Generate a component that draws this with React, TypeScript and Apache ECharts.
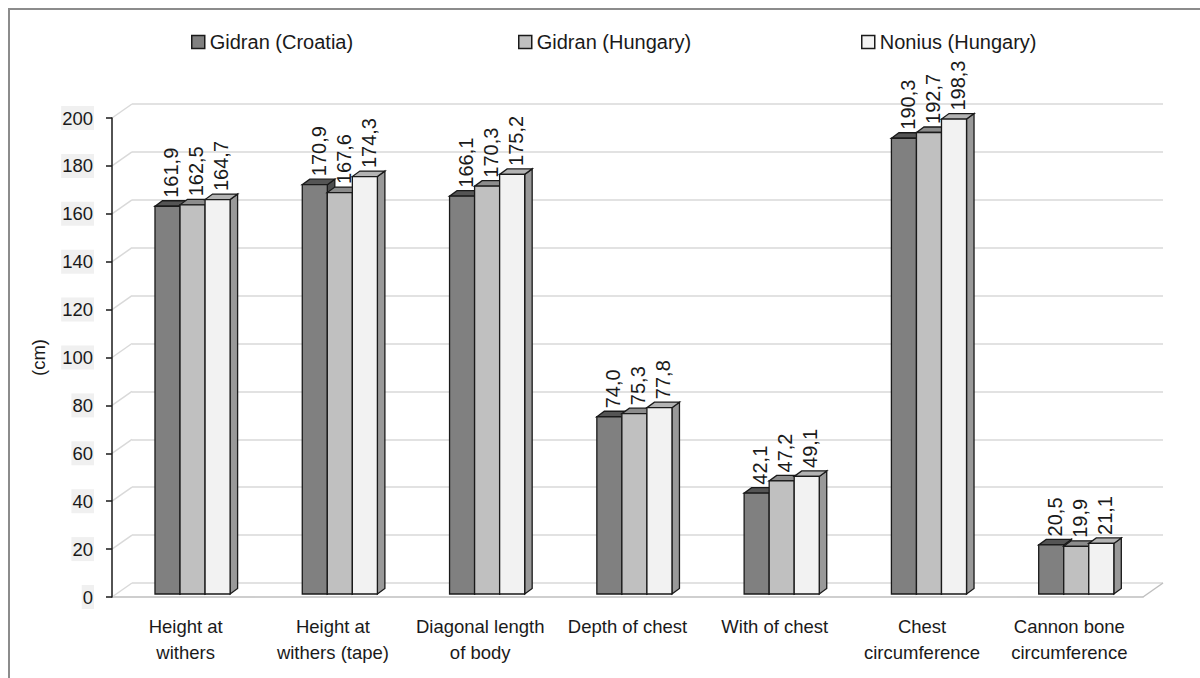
import React, { useEffect, useRef } from 'react';
import * as echarts from 'echarts';

const categories = [
  'Height at\nwithers',
  'Height at\nwithers (tape)',
  'Diagonal length\nof body',
  'Depth of chest',
  'With of chest',
  'Chest\ncircumference',
  'Cannon bone\ncircumference',
];
const seriesNames = ['Gidran (Croatia)', 'Gidran (Hungary)', 'Nonius (Hungary)'];
const gidranCroatia = [161.9, 170.9, 166.1, 74.0, 42.1, 190.3, 20.5];
const gidranHungary = [162.5, 167.6, 170.3, 75.3, 47.2, 192.7, 19.9];
const noniusHungary = [164.7, 174.3, 175.2, 77.8, 49.1, 198.3, 21.1];
const yTicks = [0, 20, 40, 60, 80, 100, 120, 140, 160, 180, 200];

const seriesValues = [gidranCroatia, gidranHungary, noniusHungary];
const frontColors = ['#808080', '#c0c0c0', '#f2f2f2'];
const topColors = ['#555555', '#8c8c8c', '#b3b3b3'];
const sideColors = ['#4d4d4d', '#7f7f7f', '#999999'];
const legendLefts = [191, 518, 861];

const FONT = '"Liberation Sans", Arial, sans-serif';
const DX = 7.5;
const DY = -5.5;
const WALL_DX = 20;
const WALL_DY = -14;

function fmt(v: number) {
  return v.toFixed(1).replace('.', ',');
}

export default function App() {
  const ref = useRef<HTMLDivElement>(null);

  useEffect(() => {
    if (!ref.current) return;
    const chart = echarts.init(ref.current, undefined, { renderer: 'svg' });

    const barSeries = seriesValues.map((vals, s) => ({
      type: 'custom',
      name: seriesNames[s],
      xAxisIndex: 0,
      yAxisIndex: 0,
      z: 3,
      itemStyle: { color: frontColors[s] },
      data: vals.map((v, i) => [i, v]),
      renderItem: (params: any, api: any) => {
        const i = api.value(0);
        const v = api.value(1);
        const top = api.coord([i, v]);
        const base = api.coord([i, 0]);
        const w = api.size([1, 0])[0];
        const bw = w * 0.17;
        const L = top[0] - 1.5 * bw + 6.9 + s * bw;
        const R = L + bw;
        const T = top[1] - 3;
        const B = base[1] - 3;
        const stroke = { stroke: '#1a1a1a', lineWidth: 1.3 };
        return {
          type: 'group',
          children: [
            {
              type: 'polygon',
              shape: { points: [[R, T], [R + DX, T + DY], [R + DX, B + DY], [R, B]] },
              style: { fill: sideColors[s], ...stroke },
            },
            {
              type: 'polygon',
              shape: { points: [[L, T], [R, T], [R + DX, T + DY], [L + DX, T + DY]] },
              style: { fill: topColors[s], ...stroke },
            },
            {
              type: 'rect',
              shape: { x: L, y: T, width: bw, height: B - T },
              style: { fill: frontColors[s], ...stroke },
            },
            {
              type: 'text',
              x: L + bw / 2 + DX / 2,
              y: T + DY - 3,
              rotation: Math.PI / 2,
              style: {
                text: fmt(v),
                x: 0,
                y: 0,
                align: 'left',
                verticalAlign: 'middle',
                fontSize: 20,
                fontFamily: FONT,
                fill: '#1a1a1a',
              },
            },
          ],
        };
      },
    }));

    const wallSeries = {
      type: 'custom',
      name: 'wall',
      xAxisIndex: 0,
      yAxisIndex: 0,
      z: 1,
      silent: true,
      data: yTicks.map((v) => [0, v]),
      renderItem: (params: any, api: any) => {
        const v = api.value(1);
        const p = api.coord([0, v]);
        const w = api.size([1, 0])[0];
        const left = p[0] - w / 2;
        const children: any[] = [
          {
            type: 'line',
            shape: { x1: left, y1: p[1], x2: left + WALL_DX, y2: p[1] + WALL_DY },
            style: { stroke: '#d9d9d9', lineWidth: 1.5 },
          },
        ];
        if (v === 0) {
          const right = left + w * categories.length;
          children.push({
            type: 'line',
            shape: { x1: right, y1: p[1], x2: right + WALL_DX, y2: p[1] + WALL_DY },
            style: { stroke: '#bfbfbf', lineWidth: 1.5 },
          });
        }
        return { type: 'group', children };
      },
    };

    const option: any = {
      animation: false,
      backgroundColor: '#ffffff',
      textStyle: { fontFamily: FONT },
      graphic: [
        {
          type: 'polyline',
          shape: { points: [[9, 678], [9, 9], [1200, 9]] },
          style: { stroke: '#8c8c8c', lineWidth: 2, fill: 'none' },
          z: 10,
        },
      ],
      legend: seriesNames.map((n, k) => ({
        data: [n],
        left: legendLefts[k],
        top: 32,
        padding: 0,
        icon: 'rect',
        itemWidth: 13,
        itemHeight: 13,
        itemGap: 0,
        selectedMode: false,
        itemStyle: { borderColor: '#1a1a1a', borderWidth: 1.5 },
        textStyle: { fontSize: 20, color: '#1a1a1a', fontFamily: FONT },
      })),
      grid: [
        { left: 112, right: 57, top: 118, bottom: 81 },
        { left: 132, right: 37, top: 104, bottom: 95 },
      ],
      xAxis: [
        {
          type: 'category',
          gridIndex: 0,
          data: categories,
          axisLine: { show: true, lineStyle: { color: '#bfbfbf', width: 1.5 } },
          axisTick: { show: false },
          axisLabel: {
            interval: 0,
            margin: 16,
            fontSize: 18.5,
            lineHeight: 26,
            color: '#1a1a1a',
            fontFamily: FONT,
          },
          splitLine: { show: false },
        },
        {
          type: 'category',
          gridIndex: 1,
          data: categories,
          show: false,
        },
      ],
      yAxis: [
        {
          type: 'value',
          gridIndex: 0,
          min: 0,
          max: 200,
          interval: 20,
          name: '(cm)',
          nameLocation: 'middle',
          nameGap: 64,
          nameRotate: 90,
          nameTextStyle: { fontSize: 18.5, color: '#1a1a1a', fontFamily: FONT },
          axisLine: { show: true, lineStyle: { color: '#1a1a1a', width: 1.5 } },
          axisTick: { show: true, length: 6, lineStyle: { color: '#1a1a1a', width: 1.5 } },
          axisLabel: {
            margin: 18,
            fontSize: 18.5,
            color: '#1a1a1a',
            fontFamily: FONT,
            backgroundColor: '#f0f0f0',
            padding: [3, 1, 2, 1],
          },
          splitLine: { show: false },
          z: 5,
        },
        {
          type: 'value',
          gridIndex: 1,
          min: 0,
          max: 200,
          interval: 20,
          axisLine: { show: false },
          axisTick: { show: false },
          axisLabel: { show: false },
          splitLine: { show: true, lineStyle: { color: '#d9d9d9', width: 1.5 } },
        },
      ],
      series: [wallSeries, ...barSeries],
    };

    chart.setOption(option);
    return () => chart.dispose();
  }, []);

  return (
    <div
      ref={ref}
      style={{ position: 'absolute', left: 0, top: 0, width: 1200, height: 678 }}
    />
  );
}
